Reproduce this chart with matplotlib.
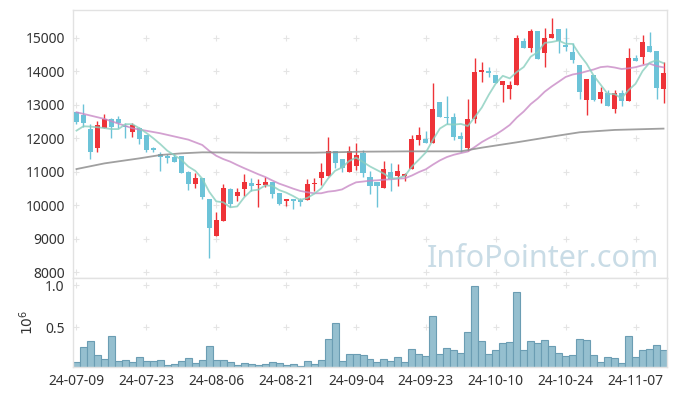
import numpy as np
import pandas as pd
import matplotlib
matplotlib.use('Agg')
import matplotlib.pyplot as plt

plt.rcParams['font.family'] = ['Noto Sans', 'DejaVu Sans']

# x tick labels (every 10 trading days)
tick_dates = ['24-07-09', '24-07-23', '24-08-06', '24-08-21', '24-09-04',
              '24-09-23', '24-10-10', '24-10-24', '24-11-07']
tick_pos = [0, 10, 20, 30, 40, 50, 60, 70, 80]

# daily candles
opens = [12780, 12700, 12280, 11720, 12320, 12570, 12580, 12370, 12180, 12300,
         12100, 11700, 11520, 11480, 11450, 11470, 10980, 10640, 10800, 10170,
         9090, 9540, 10480, 10260, 10470, 10660, 10590, 10590, 10690, 10350,
         10120, 10170, 10150, 10150, 10620, 10820, 10880, 11620, 11370, 11000,
         11180, 11570, 10830, 10680, 10520, 10980, 10870, 10870, 11070, 11950,
         11980, 11870, 13080, 12650, 12630, 12070, 11720, 12570, 13970, 14010,
         13890, 13590, 13480, 13590, 14910, 14710, 15210, 14560, 15010, 15270,
         14780, 14570, 14190, 13150, 13890, 13180, 13350, 12880, 13350, 13130,
         14390, 14420, 14770, 14610, 13460]
highs = [12800, 13020, 12420, 12520, 12720, 12600, 12660, 12470, 12450, 12350,
         12100, 11750, 11600, 11520, 11520, 11470, 11020, 10950, 10820, 10170,
         9810, 10620, 10500, 10520, 10940, 10800, 10770, 10830, 10690, 10350,
         10190, 10170, 10200, 10770, 10800, 11250, 12030, 11620, 11370, 11770,
         11870, 11650, 11020, 10680, 11320, 11250, 11220, 10950, 12100, 12330,
         12220, 13640, 13080, 13270, 12770, 12200, 13170, 14390, 14270, 14140,
         13890, 13710, 13720, 15090, 14990, 15270, 15210, 15290, 15590, 15270,
         15290, 14860, 14190, 13760, 13890, 13530, 13450, 13450, 13450, 14690,
         14490, 15090, 15190, 14610, 14290]
lows = [12420, 12350, 11370, 11600, 12300, 12020, 12300, 12000, 12050, 11820,
        11580, 11580, 11020, 11250, 11300, 10970, 10440, 10500, 10190, 8420,
        9090, 9540, 9960, 10130, 10260, 10420, 9940, 10530, 10200, 10000,
        9980, 9880, 9980, 10150, 10420, 10600, 10880, 11100, 10980, 11000,
        11050, 10830, 10330, 9960, 10520, 10420, 10580, 10720, 11070, 11800,
        11870, 11870, 12630, 12420, 11950, 11590, 11620, 12470, 13690, 13840,
        13640, 13080, 13170, 13590, 14710, 14570, 14370, 14120, 15010, 14540,
        14620, 14240, 13170, 12700, 13130, 13050, 12970, 12770, 12970, 13130,
        14310, 14220, 14590, 13170, 13050]
closes = [12500, 12450, 11600, 12400, 12580, 12350, 12450, 12330, 12400, 11970,
          11650, 11650, 11450, 11420, 11300, 10970, 10640, 10800, 10250, 9330,
          9550, 10500, 10050, 10380, 10690, 10560, 10630, 10690, 10330, 10050,
          10180, 10120, 10100, 10620, 10670, 10980, 11620, 11250, 11120, 11620,
          11500, 10970, 10580, 10580, 11080, 10780, 11020, 10930, 11980, 12100,
          11870, 12880, 12630, 12620, 12050, 11970, 12570, 13970, 14040, 13960,
          13660, 13710, 13590, 14990, 14710, 15210, 14370, 14990, 15120, 14920,
          14740, 14340, 13390, 13760, 13150, 13380, 12970, 13350, 13130, 14390,
          14310, 14870, 14590, 13510, 13960]
# volume in millions
volume = [0.08, 0.26, 0.33, 0.16, 0.12, 0.39, 0.09, 0.10, 0.08, 0.14,
          0.09, 0.09, 0.10, 0.04, 0.06, 0.09, 0.13, 0.07, 0.10, 0.27,
          0.10, 0.10, 0.08, 0.04, 0.07, 0.06, 0.04, 0.06, 0.08, 0.07,
          0.04, 0.06, 0.03, 0.09, 0.06, 0.10, 0.36, 0.55, 0.09, 0.18,
          0.18, 0.16, 0.12, 0.08, 0.12, 0.09, 0.14, 0.08, 0.24, 0.18,
          0.15, 0.63, 0.18, 0.25, 0.22, 0.19, 0.44, 0.99, 0.33, 0.18,
          0.22, 0.31, 0.32, 0.92, 0.22, 0.33, 0.31, 0.34, 0.27, 0.19,
          0.15, 0.16, 0.36, 0.34, 0.16, 0.08, 0.14, 0.13, 0.07, 0.39,
          0.14, 0.22, 0.24, 0.28, 0.22]

# moving averages: start of each line (needs earlier days)
ma5_head = [12230, 12360, 12350, 12330]
ma20_head_idx = [0, 4, 8, 12, 16, 18]
ma20_head = [12780, 12580, 12300, 12150, 11960, 11800]
long_ma_idx = [0, 4, 9, 12, 15, 18, 26, 34, 41, 48, 55, 58, 63, 68, 72, 77, 84]
long_ma = [11080, 11250, 11400, 11500, 11550, 11580, 11570, 11570, 11600, 11610,
           11610, 11720, 11880, 12050, 12180, 12250, 12290]

RED = '#EE3338'
BLUE = '#6CC3D8'

n = len(closes)
x = np.arange(n)
o = np.array(opens)
c = np.array(closes)
h = np.array(highs)
l = np.array(lows)
up = c >= o

fig = plt.figure(figsize=(6.77, 3.96), dpi=100)
ax = fig.add_axes([73/677, 1-278/396, 594/677, 268/396])
axv = fig.add_axes([73/677, 1-367/396, 594/677, 89/396], sharex=ax)

# grid as small crosses
yt = [8000, 9000, 10000, 11000, 12000, 13000, 14000, 15000]
gx, gy = np.meshgrid(tick_pos, yt)
ax.plot(gx.ravel(), gy.ravel(), '+', color='#e4e4e4', ms=4, mew=0.8, zorder=0)
gx, gy = np.meshgrid(tick_pos, [0.5, 1.0])
axv.plot(gx.ravel(), gy.ravel(), '+', color='#e4e4e4', ms=4, mew=0.8, zorder=0)

colors = np.where(up, RED, BLUE)
ax.vlines(x, l, h, colors=colors, lw=1.0, zorder=2)
body = np.maximum(np.abs(c - o), 25)
ax.bar(x, body, bottom=np.minimum(o, c), width=0.72, color=colors, zorder=3)

s = pd.Series(closes, dtype=float)
ma5 = s.rolling(5).mean().to_numpy()
ma5[:4] = ma5_head
ma20 = s.rolling(20).mean().to_numpy()
ax.plot(np.r_[ma20_head_idx, x[19:]], np.r_[ma20_head, ma20[19:]],
        color='#C98AC6', lw=1.3, alpha=0.8, zorder=4)
ax.plot(long_ma_idx, long_ma, color='#8f8f8f', lw=1.3, alpha=0.85, zorder=4)
ax.plot(x, ma5, color='#8ACFBF', lw=1.3, alpha=0.8, zorder=4)

ax.text(0.9865, 0.04, 'InfoPointer.com', transform=ax.transAxes, ha='right',
        va='baseline', fontsize=22, color='#C9DCE6', zorder=1)

ax.set_xlim(-0.5, n - 0.5)
ax.set_ylim(7822, 15837)
ax.set_yticks(yt)
ax.set_yticklabels([str(v) for v in yt])
ax.tick_params(axis='x', labelbottom=False, length=0)
ax.tick_params(axis='y', length=0, pad=6, labelsize=10, labelcolor='#333333')

axv.bar(x, volume, width=1.0, color='#95BFCF', edgecolor='#6B9DB3', lw=0.8)
axv.set_ylim(0.02, 1.09)
axv.set_yticks([0.5, 1.0])
axv.set_yticklabels(['0.5', '1.0'])
axv.set_xticks(tick_pos)
axv.set_xticklabels(tick_dates)
axv.tick_params(length=0, labelsize=10, labelcolor='#333333')
axv.tick_params(axis='y', pad=6)
axv.tick_params(axis='x', pad=5)
axv.set_ylabel(r'$10^6$', fontsize=10, color='#333333')
axv.yaxis.set_label_coords(-0.0606, 0.5)

for a in (ax, axv):
    for sp in a.spines.values():
        sp.set_color('#e2e2e2')
        sp.set_linewidth(1.0)

fig.savefig('out.png', dpi=100)
